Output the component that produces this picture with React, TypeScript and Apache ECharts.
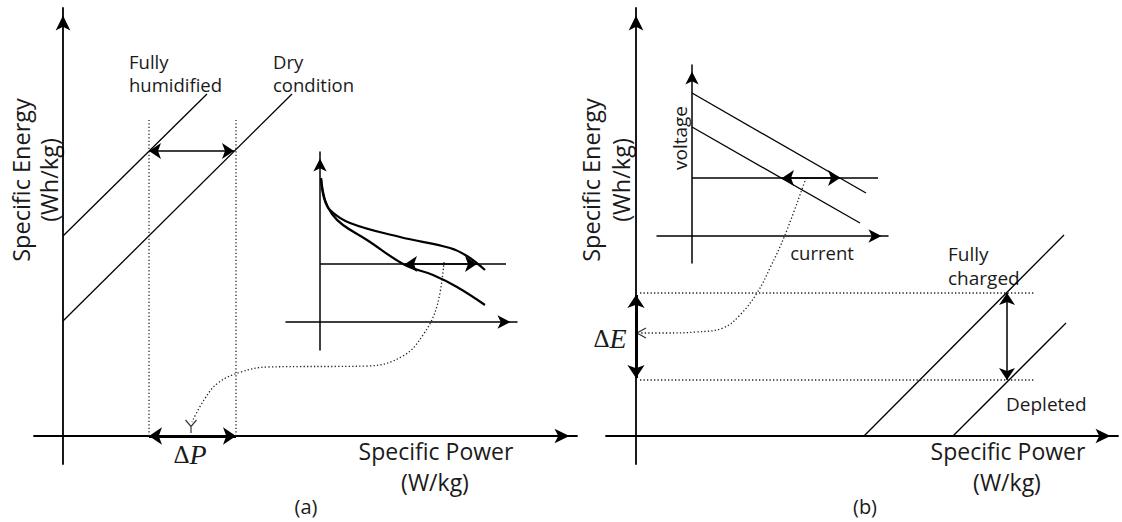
import React, { useEffect, useRef } from "react";
import * as echarts from "echarts";

// ---------------- Panel (a): fuel cell, specific power vs specific energy ----------------
const humidifiedLine = [[0, 200], [144, 342]];
const dryLine = [[0, 115], [229, 342]];
const powerGapLeft = [[86, 0], [86, 316]];
const powerGapRight = [[173, 0], [173, 316]];
const powerGapArrow = [[86, 285], [171, 285]];
const deltaPArrow = [[86, 0], [173, 0]];
const linkCurveA = [[381, 174], [374, 130], [360, 101], [340, 80], [305, 70], [205, 69], [178, 64], [155, 53], [141, 36], [129, 14]];
const linkHeadA = [[128, 3]];

// inset (a): polarization curves (current vs voltage)
const polUpper = [[1, 144], [4, 124], [10, 112], [30, 99], [80, 85], [130, 74], [147, 66], [165, 52]];
const polLower = [[1, 144], [5, 122], [12, 108], [23, 97], [47, 82], [85, 57], [113, 47], [137, 35], [165, 17]];
const polLoad = [[0, 58], [186, 58]];
const polArrow = [[85, 58], [157, 58]];

// ---------------- Panel (b): battery, specific power vs specific energy ----------------
const chargedLine = [[228, 0], [428, 201]];
const depletedLine = [[317, 0], [430, 113]];
const energyTop = [[4, 143], [399, 143]];
const energyBottom = [[4, 56], [399, 56]];
const energyGapArrow = [[371, 143], [371, 56]];
const deltaEArrow = [[0, 141], [0, 58]];
const linkCurveB = [[170, 258], [149, 201], [134, 168], [121, 143], [104, 121], [87, 108], [60, 104], [30, 103], [4, 103]];
const linkHeadB = [[1, 103]];

// inset (b): voltage vs current lines
const ivHigh = [[0, 143], [174, 43]];
const ivLow = [[0, 109], [168, 13]];
const ivLoad = [[0, 58], [186, 58]];
const ivArrow = [[90, 58], [148, 58]];

const FONT = '"Open Sans", "DejaVu Sans", sans-serif';
const SERIF = '"Liberation Serif", "DejaVu Serif", serif';
const INK = "#1a1a1a";

function axis(min: number, max: number, width: number, arrow: number[]) {
  return {
    type: "value",
    min,
    max,
    axisLine: {
      show: true,
      onZero: true,
      symbol: ["none", "arrow"],
      symbolSize: arrow,
      symbolOffset: [0, -arrow[1] / 2],
      lineStyle: { color: "#000", width },
    },
    axisTick: { show: false },
    axisLabel: { show: false },
    splitLine: { show: false },
  };
}

function plain(grid: number, data: number[][], width: number, extra: any = {}) {
  return {
    type: "line",
    xAxisIndex: grid,
    yAxisIndex: grid,
    data,
    symbol: "none",
    showSymbol: false,
    silent: true,
    lineStyle: { color: "#000", width, ...(extra.lineStyle || {}) },
    smooth: extra.smooth || false,
  };
}

function dotted(grid: number, data: number[][], smooth: any = false) {
  return plain(grid, data, 1.3, { lineStyle: { color: "#222", type: [1.3, 2.2] }, smooth });
}

function arrow(grid: number, coords: number[][], width: number, size: number, both = true) {
  return {
    type: "lines",
    coordinateSystem: "cartesian2d",
    xAxisIndex: grid,
    yAxisIndex: grid,
    silent: true,
    symbol: [both ? "arrow" : "none", "arrow"],
    symbolSize: size,
    symbolOffset: [0, size / 2],
    lineStyle: { color: "#000", width, opacity: 1 },
    itemStyle: { color: "#000" },
    data: [{ coords }],
  };
}

function head(grid: number, data: number[][], path: string, size: number[], offset: number[]) {
  return {
    type: "scatter",
    xAxisIndex: grid,
    yAxisIndex: grid,
    silent: true,
    data,
    symbol: path,
    symbolSize: size,
    symbolOffset: offset,
    itemStyle: { color: "transparent", borderColor: "#000", borderWidth: 1.3 },
  };
}

function label(text: string, x: number, y: number, size: number, align = "center", rotation = 0) {
  return {
    type: "text",
    x,
    y,
    rotation,
    silent: true,
    style: {
      text,
      font: `${size}px ${FONT}`,
      fill: INK,
      align,
      textAlign: align,
      verticalAlign: "middle",
      textVerticalAlign: "middle",
    },
  };
}

function delta(letter: string, x: number, y: number) {
  return {
    type: "text",
    x,
    y,
    silent: true,
    style: {
      text: `{d|Δ}{l|${letter}}`,
      align: "center",
      textAlign: "center",
      verticalAlign: "middle",
      textVerticalAlign: "middle",
      fill: INK,
      rich: {
        d: { font: `25px ${SERIF}`, fill: INK },
        l: { font: `italic 28px ${SERIF}`, fill: INK },
      },
    },
  };
}

export default function App() {
  const ref = useRef<HTMLDivElement>(null);
  useEffect(() => {
    if (!ref.current) return;
    const chart = echarts.init(ref.current, null, { renderer: "svg" });
    const option: any = {
      animation: false,
      backgroundColor: "#fff",
      grid: [
        { left: 34, top: 8, width: 543, height: 456 },
        { left: 286, top: 152, width: 231, height: 198 },
        { left: 606, top: 8, width: 512, height: 456 },
        { left: 657, top: 65, width: 231, height: 198 },
      ],
      xAxis: [
        { ...axis(-29, 514, 1.8, [11, 15]), gridIndex: 0 },
        { ...axis(-34, 197, 1.5, [10, 13]), gridIndex: 1 },
        { ...axis(-30, 482, 1.8, [11, 15]), gridIndex: 2 },
        { ...axis(-35, 196, 1.5, [10, 13]), gridIndex: 3 },
      ],
      yAxis: [
        { ...axis(-28, 428, 1.8, [11, 15]), gridIndex: 0 },
        { ...axis(-28, 170, 1.5, [10, 13]), gridIndex: 1 },
        { ...axis(-28, 428, 1.8, [11, 15]), gridIndex: 2 },
        { ...axis(-27, 171, 1.5, [10, 13]), gridIndex: 3 },
      ],
      series: [
        // panel (a)
        plain(0, humidifiedLine, 1.3),
        plain(0, dryLine, 1.3),
        dotted(0, powerGapLeft),
        dotted(0, powerGapRight),
        arrow(0, powerGapArrow, 1.5, 12),
        arrow(0, deltaPArrow, 3, 13),
        dotted(0, linkCurveA, 0.4),
        head(0, linkHeadA, "path://M0,0L5,6L10,0M5,6L5,12", [11, 13], [0, -6.5]),
        // inset (a)
        plain(1, polUpper, 2.2, { smooth: 0.4 }),
        plain(1, polLower, 2.2, { smooth: 0.4 }),
        plain(1, polLoad, 1.5),
        arrow(1, polArrow, 1.5, 12),
        // panel (b)
        plain(2, chargedLine, 1.3),
        plain(2, depletedLine, 1.3),
        dotted(2, energyTop),
        dotted(2, energyBottom),
        arrow(2, energyGapArrow, 1.5, 12),
        arrow(2, deltaEArrow, 3, 13),
        dotted(2, linkCurveB, 0.4),
        head(2, linkHeadB, "path://M10,0L0,5L10,10", [9, 10], [4.5, 0]),
        // inset (b)
        plain(3, ivHigh, 1.3),
        plain(3, ivLow, 1.3),
        plain(3, ivLoad, 1.5),
        arrow(3, ivArrow, 1.5, 12),
      ],
      graphic: [
        label("Specific Energy", 21, 180, 23.5, "center", Math.PI / 2),
        label("(Wh/kg)", 49, 180, 23.5, "center", Math.PI / 2),
        label("Fully", 129, 61, 18.5, "left"),
        label("humidified", 129, 84, 18.5, "left"),
        label("Dry", 273, 61, 18.5, "left"),
        label("condition", 273, 84, 18.5, "left"),
        delta("P", 190, 454),
        label("Specific Power", 436, 451, 23),
        label("(W/kg)", 435, 482, 23),
        label("(a)", 306, 506, 20),
        label("Specific Energy", 591, 180, 23.5, "center", Math.PI / 2),
        label("(Wh/kg)", 621, 180, 23.5, "center", Math.PI / 2),
        label("voltage", 680, 138, 19, "center", Math.PI / 2),
        label("current", 822, 252, 18.5),
        label("Fully", 948, 254, 19, "left"),
        label("charged", 948, 278, 19, "left"),
        label("Depleted", 1006, 404, 19, "left"),
        delta("E", 610, 338),
        label("Specific Power", 1008, 451, 23),
        label("(W/kg)", 1007, 482, 23),
        label("(b)", 865, 506, 20),
      ],
    };
    chart.setOption(option);
    return () => chart.dispose();
  }, []);
  return (
    <div
      ref={ref}
      style={{ position: "absolute", left: 0, top: 0, width: 1122, height: 522, background: "#fff" }}
    />
  );
}
